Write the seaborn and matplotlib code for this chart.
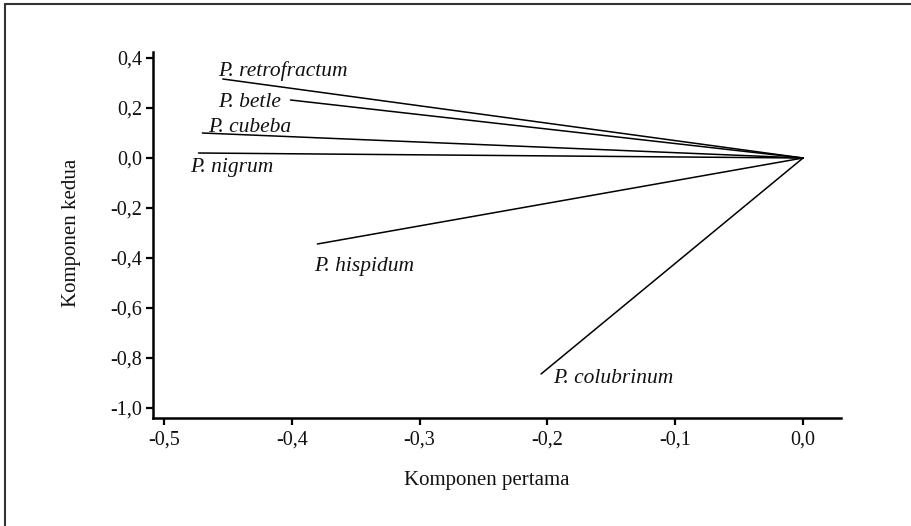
# plot.py
# -*- coding: utf-8 -*-

import pandas as pd
import matplotlib.pyplot as plt
import seaborn as sns
from matplotlib.lines import Line2D
from matplotlib.ticker import FixedLocator, FuncFormatter

# Data: loadings of the first two components per species
species = ['P. retrofractum', 'P. betle', 'P. cubeba', 'P. nigrum', 'P. hispidum', 'P. colubrinum']
komponen_pertama = [-0.454, -0.401, -0.470, -0.473, -0.380, -0.205]
komponen_kedua = [0.316, 0.232, 0.100, 0.020, -0.344, -0.864]

x_ticks = [-0.5, -0.4, -0.3, -0.2, -0.1, 0.0]
y_ticks = [0.4, 0.2, 0.0, -0.2, -0.4, -0.6, -0.8, -1.0]

# label placement (offset in pixels from the line end, horizontal alignment)
label_offsets = [(-5, 3, 'left'), (-10, -7, 'right'), (6, 1, 'left'),
                 (-8, -19, 'left'), (-3, -27, 'left'), (12, -9, 'left')]

sns.set_style("ticks")
plt.rcParams['font.family'] = ['Liberation Serif', 'DejaVu Serif']
plt.rcParams['font.size'] = 14

# each species gets a segment from the origin to its loading
rows = []
for name, x, y in zip(species, komponen_pertama, komponen_kedua):
    rows.append({'species': name, 'pc1': 0.0, 'pc2': 0.0, 'order': 0})
    rows.append({'species': name, 'pc1': x, 'pc2': y, 'order': 1})
df = pd.DataFrame(rows)

fig = plt.figure(figsize=(9.12, 5.26), dpi=100)
ax = fig.add_axes([153 / 912, 1 - 418 / 526, (841 - 153) / 912, (418 - 52) / 526])

sns.lineplot(data=df, x='pc1', y='pc2', units='species', estimator=None,
             sort=False, color='black', linewidth=1.1, ax=ax)

for name, x, y, (dx, dy, ha) in zip(species, komponen_pertama, komponen_kedua, label_offsets):
    ax.annotate(name, xy=(x, y), xytext=(dx, dy), textcoords='offset pixels',
                ha=ha, va='baseline', fontsize=15.5, fontstyle='italic', color='#111111')

ax.set_xlim(-0.5086, 0.0297)
ax.set_ylim(-1.04, 0.424)
ax.xaxis.set_major_locator(FixedLocator(x_ticks))
ax.yaxis.set_major_locator(FixedLocator(y_ticks))
fmt = FuncFormatter(lambda v, pos: f"{v:.1f}".replace('.', ',').replace('-0,0', '0,0'))
ax.xaxis.set_major_formatter(fmt)
ax.yaxis.set_major_formatter(fmt)
ax.tick_params(axis='both', length=5, width=1.6, labelsize=14.5, color='black', labelcolor='#111111')
ax.tick_params(axis='x', pad=4)
ax.tick_params(axis='y', pad=3)

sns.despine(ax=ax)
for side in ['left', 'bottom']:
    ax.spines[side].set_linewidth(1.8)
    ax.spines[side].set_color('black')

ax.set_xlabel('')
ax.set_ylabel('')
fig.text(487 / 912, 1 - 481 / 526, 'Komponen pertama', ha='center', va='center', fontsize=15, color='#111111')
fig.text(72 / 912, 1 - 233 / 526, 'Komponen kedua', ha='center', va='center', rotation=90, fontsize=15, color='#111111')

# frame lines on the top and left edge of the figure
fig.add_artist(Line2D([5 / 912, 1], [1 - 4 / 526, 1 - 4 / 526], transform=fig.transFigure,
                      color='#333333', linewidth=1.5))
fig.add_artist(Line2D([5 / 912, 5 / 912], [0, 1 - 4 / 526], transform=fig.transFigure,
                      color='#333333', linewidth=1.5))

plt.savefig('out.png', dpi=100)
plt.close()
